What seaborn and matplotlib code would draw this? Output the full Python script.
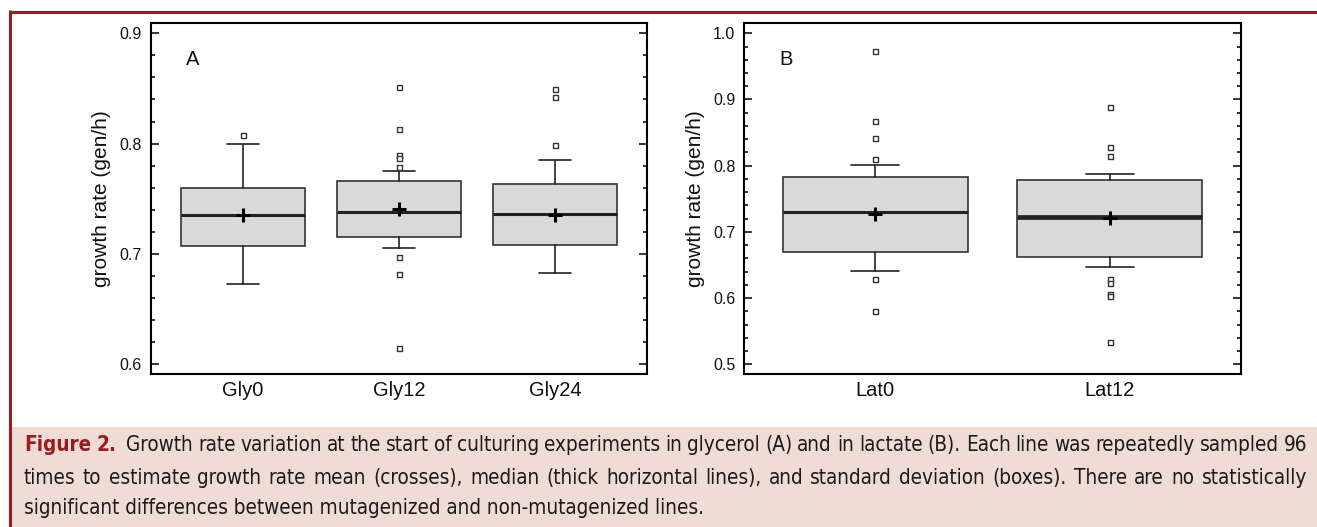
import os
import numpy as np
import pandas as pd
import matplotlib
matplotlib.use("Agg")
import matplotlib.pyplot as plt
import seaborn as sns
from matplotlib import font_manager
from matplotlib.font_manager import FontProperties
from matplotlib.ticker import MultipleLocator, FormatStrFormatter
from matplotlib.lines import Line2D
from matplotlib.patches import Rectangle

# ---------------- data: panel A (glycerol) ----------------
gly_labels = ["Gly0", "Gly12", "Gly24"]
gly_q1 = [0.707, 0.715, 0.708]
gly_median = [0.735, 0.738, 0.736]
gly_q3 = [0.760, 0.766, 0.763]
gly_mean = [0.735, 0.7405, 0.735]
gly_whislo = [0.673, 0.705, 0.6825]
gly_whishi = [0.800, 0.775, 0.785]
gly_fliers = [
    [0.808],
    [0.851, 0.813, 0.790, 0.787, 0.779, 0.697, 0.682, 0.6145],
    [0.8495, 0.842, 0.799],
]

# ---------------- data: panel B (lactate) ----------------
lat_labels = ["Lat0", "Lat12"]
lat_q1 = [0.670, 0.6626]
lat_median = [0.7296, 0.7231]
lat_q3 = [0.7835, 0.779]
lat_mean = [0.7276, 0.7205]
lat_whislo = [0.6405, 0.6465]
lat_whishi = [0.8006, 0.7875]
lat_fliers = [
    [0.9728, 0.868, 0.8424, 0.8107, 0.6284, 0.5806],
    [0.8887, 0.8283, 0.8152, 0.6284, 0.6234, 0.6062, 0.6037, 0.5342],
]

y_label = "growth rate (gen/h)"
caption_lines = [
    "Growth rate variation at the start of culturing experiments in glycerol (A) and in lactate (B). Each line was repeatedly sampled 96",
    "times to estimate growth rate mean (crosses), median (thick horizontal lines), and standard deviation (boxes). There are no statistically",
    "significant differences between mutagenized and non-mutagenized lines.",
]
caption_head = "Figure 2."

# ---------------- style ----------------
sns.set_theme(style="ticks")
plt.rcParams["font.family"] = ["Liberation Sans", "DejaVu Sans"]

W, H = 1317, 527
fig = plt.figure(figsize=(W / 100, H / 100), dpi=100)
fig.patch.set_facecolor("white")


def fx(x):
    return x / W


def fy(y):
    return 1 - y / H


RED = "#9b1b1f"


def draw_panel(ax, labels, q1, med, q3, mean, wlo, whi, fliers, ylim, xpad, med_lws, letter):
    n = len(labels)
    pos = np.arange(n)
    stats = [
        dict(label=l, q1=a, med=m, q3=b, whislo=lo, whishi=hi, mean=mu, fliers=[])
        for l, a, m, b, lo, hi, mu in zip(labels, q1, med, q3, wlo, whi, mean)
    ]
    bp = ax.bxp(
        stats, positions=pos, widths=0.79, capwidths=0.205, patch_artist=True,
        showfliers=False, showmeans=False,
        boxprops=dict(facecolor="#d9d9d9", edgecolor="#333333", linewidth=1.2),
        whiskerprops=dict(color="#222222", linewidth=1.2),
        capprops=dict(color="#222222", linewidth=1.2),
        medianprops=dict(color="#222222", linewidth=2.2, solid_capstyle="butt"),
    )
    for line, lw in zip(bp["medians"], med_lws):
        line.set_linewidth(lw)

    fl_df = pd.DataFrame(
        [(lab, v) for lab, vals in zip(labels, fliers) for v in vals],
        columns=["group", "value"],
    )
    sns.stripplot(data=fl_df, x="group", y="value", order=labels, jitter=False,
                  marker="s", size=3.6, color="white", edgecolor="#333333",
                  linewidth=1.0, ax=ax, zorder=4)
    mean_df = pd.DataFrame({"group": labels, "value": mean})
    sns.stripplot(data=mean_df, x="group", y="value", order=labels, jitter=False,
                  marker="+", size=9.5, color="black", linewidth=2.2, ax=ax, zorder=6)

    ax.set_xlim(-xpad, n - 1 + xpad)
    ax.set_ylim(*ylim)
    ax.set_xticks(pos)
    ax.set_xticklabels(labels)
    ax.yaxis.set_major_locator(MultipleLocator(0.1))
    ax.yaxis.set_minor_locator(MultipleLocator(0.02))
    ax.yaxis.set_major_formatter(FormatStrFormatter("%.1f"))
    ax.tick_params(axis="y", which="both", direction="in", left=True, right=True,
                   width=1.1, color="black", pad=6.5, labelsize=11.5, labelcolor="#111111")
    ax.tick_params(axis="y", which="major", length=5.8)
    ax.tick_params(axis="y", which="minor", length=2.9)
    ax.tick_params(axis="x", length=0, labelsize=14.5, pad=5, labelcolor="#111111")
    ax.set_xlabel("")
    ax.set_ylabel(y_label, fontsize=15, color="#111111")
    ax.yaxis.set_label_coords(-0.080, 0.5)
    for s in ax.spines.values():
        s.set_visible(True)
        s.set_linewidth(1.5)
        s.set_color("black")
    ax.set_facecolor("white")
    ax.grid(False)
    ax.text(0.085, 0.898, letter, transform=ax.transAxes, fontsize=14.5,
            ha="center", va="center", color="#111111")


axA = fig.add_axes([fx(150.7), fy(374.3), (647.3 - 150.7) / W, (374.3 - 23.3) / H])
axB = fig.add_axes([fx(744.3), fy(374.3), (1240.7 - 744.3) / W, (374.3 - 23.3) / H])

draw_panel(axA, gly_labels, gly_q1, gly_median, gly_q3, gly_mean, gly_whislo, gly_whishi,
           gly_fliers, (0.591, 0.909), 0.59, [2.2, 2.2, 2.2], "A")
draw_panel(axB, lat_labels, lat_q1, lat_median, lat_q3, lat_mean, lat_whislo, lat_whishi,
           lat_fliers, (0.4849, 1.0151), 0.56, [2.2, 3.4], "B")

# ---------------- frame & caption box ----------------
fig.add_artist(Rectangle((fx(12), 0), 1 - fx(12), fy(427.3), transform=fig.transFigure,
                         facecolor="#efdcd5", edgecolor="none", zorder=0))
fig.add_artist(Line2D([fx(9), 1.0], [fy(11.5), fy(11.5)], transform=fig.transFigure,
                      color=RED, linewidth=2.2, solid_capstyle="butt"))
fig.add_artist(Line2D([fx(10.3), fx(10.3)], [fy(10.4), 0.0], transform=fig.transFigure,
                      color=RED, linewidth=2.2, solid_capstyle="butt"))

# ---------------- caption font: a condensed sans ----------------
ttf = font_manager.fontManager.ttflist
by_base = {os.path.basename(f.fname).lower(): f.fname for f in ttf}


def find_file(cands):
    for c in cands:
        if c in by_base:
            return by_base[c]
    return None


reg_file = find_file(["liberationsansnarrow-regular.ttf", "notosans-condensed.ttf",
                      "notosans-condensed.otf", "opensans-condensed.ttf",
                      "opensans_condensed-regular.ttf", "dejavusanscondensed.ttf"])
bold_file = find_file(["liberationsansnarrow-bold.ttf", "notosans-condensedbold.ttf",
                       "notosans-condensedbold.otf", "opensans-condensedbold.ttf",
                       "opensans_condensed-bold.ttf", "dejavusanscondensed-bold.ttf"])
if reg_file is not None:
    fp_reg = FontProperties(fname=reg_file)
    fp_bold = FontProperties(fname=bold_file) if bold_file else FontProperties(fname=reg_file, weight="bold")
    cap_size = 14.9
else:
    fp_reg = FontProperties(family="Roboto Condensed")
    fp_bold = FontProperties(family="Roboto Condensed", weight="bold")
    cap_size = 15.5
fp_reg.set_size(cap_size)
fp_bold.set_size(cap_size)

renderer = fig.canvas.get_renderer()
x_left, x_right = 24.0, 1307.0
baselines = [450.6, 484.0, 514.0]
TXT = "#1a1a1a"


def justified_line(tokens, y):
    objs = []
    for w, fp, col, _ in tokens:
        t = fig.text(0, fy(y), w, fontproperties=fp, color=col, va="baseline", ha="left")
        objs.append(t)
    widths = [t.get_window_extent(renderer=renderer).width for t in objs]
    weights = [tok[3] for tok in tokens][1:]
    gap = (x_right - x_left - sum(widths)) / sum(weights)
    x = x_left
    for i, t in enumerate(objs):
        t.set_x(fx(x))
        x += widths[i]
        if i < len(weights):
            x += gap * weights[i]


head = [(w, fp_bold, RED, 1) for w in caption_head.split()]
line1 = head + [(w, fp_reg, TXT, 2 if i == 0 else 1)
                for i, w in enumerate(caption_lines[0].split())]
justified_line(line1, baselines[0])
line2 = [(w, fp_reg, TXT, 1) for w in caption_lines[1].split()]
justified_line(line2, baselines[1])
fig.text(fx(x_left), fy(baselines[2]), caption_lines[2], fontproperties=fp_reg,
         va="baseline", ha="left", color=TXT)

fig.savefig("out.png", dpi=100, facecolor="white")
